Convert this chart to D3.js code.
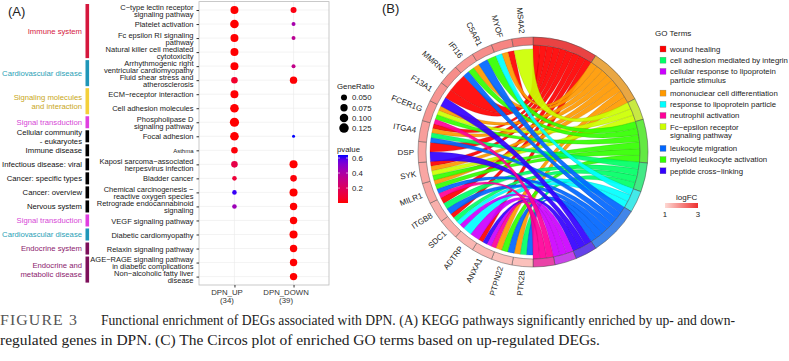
<!DOCTYPE html>
<html>
<head>
<meta charset="utf-8">
<script src="https://cdn.jsdelivr.net/npm/d3@7"></script>
<style>
  body { margin: 0; background: #fff; }
  svg { display: block; font-family: "Liberation Sans", Arial, sans-serif; }
</style>
</head>
<body>
<div id="chart"></div>
<script>
// ---- Panel A: KEGG dot plot data ----
const pathways = [
  "C\u2212type lectin receptor\nsignaling pathway",
  "Platelet activation",
  "Fc epsilon RI signaling\npathway",
  "Natural killer cell mediated\ncytotoxicity",
  "Arrhythmogenic right\nventricular cardiomyopathy",
  "Fluid shear stress and\natherosclerosis",
  "ECM\u2212receptor interaction",
  "Cell adhesion molecules",
  "Phospholipase D\nsignaling pathway",
  "Focal adhesion",
  "Asthma",
  "Kaposi sarcoma\u2212associated\nherpesvirus infection",
  "Bladder cancer",
  "Chemical carcinogenesis \u2212\nreactive oxygen species",
  "Retrograde endocannabinoid\nsignaling",
  "VEGF signaling pathway",
  "Diabetic cardiomyopathy",
  "Relaxin signaling pathway",
  "AGE\u2212RAGE signaling pathway\nin diabetic complications",
  "Non\u2212alcoholic fatty liver\ndisease"
];
const groups = ["DPN_UP", "DPN_DOWN"];
const groupSizes = [34, 39];
const upRatio   = [0.088, 0.103, 0.088, 0.088, 0.088, 0.060, 0.088, 0.103, 0.118, 0.103, 0.060, 0.060, 0.029, 0.029, 0.029, null, null, null, null, null];
const upP       = [0.002, 0.001, 0.002, 0.002, 0.003, 0.070, 0.004, 0.002, 0.001, 0.002, 0.010, 0.140, 0.100, 0.620, 0.450, null, null, null, null, null];
const downRatio = [0.050, 0.022, 0.022, null, 0.022, 0.076, null, null, null, 0.0125, null, 0.090, 0.060, 0.090, 0.076, 0.076, 0.090, 0.076, 0.076, 0.076];
const downP     = [0.020, 0.420, 0.350, null, 0.320, 0.005, null, null, null, 0.640, null, 0.002, 0.010, 0.001, 0.003, 0.002, 0.001, 0.002, 0.003, 0.002];

const categoryNames = [
  "Immune system", "Cardiovascular disease", "Signaling molecules\nand interaction",
  "Signal transduction", "Cellular community\n- eukaryotes", "Immune disease",
  "Infectious disease: viral", "Cancer: specific types", "Cancer: overview",
  "Nervous system", "Signal transduction", "Cardiovascular disease",
  "Endocrine system", "Endocrine and\nmetabolic disease"
];
const categoryRows = [[0, 3], [4, 5], [6, 7], [8, 8], [9, 9], [10, 10], [11, 11], [12, 12], [13, 13], [14, 14], [15, 15], [16, 16], [17, 17], [18, 19]];
const categoryBarColors  = ["#d5173d", "#1f96b8", "#f4d03a", "#e03fe0", "#000", "#000", "#000", "#000", "#000", "#000", "#e03fe0", "#1f96b8", "#7d0f5a", "#7d0f5a"];
const categoryTextColors = ["#d5173d", "#2a9fb6", "#c9a720", "#d646d6", "#111", "#111", "#111", "#111", "#111", "#111", "#d646d6", "#2a9fb6", "#8c1a6d", "#8c1a6d"];
const sizeBreaks = [0.050, 0.075, 0.100, 0.125];
const pBreaks = [0.2, 0.4, 0.6];

// ---- Panel B: GO chord data ----
const goTerms = [
  "wound healing", "mononuclear cell differentiation", "Fc\u2212epsilon receptor signaling pathway",
  "myeloid leukocyte activation", "cell adhesion mediated by integrin", "response to lipoprotein particle",
  "leukocyte migration", "peptide cross\u2212linking", "cellular response to lipoprotein particle stimulus",
  "neutrophil activation"
];
const termColors = ["#FF0000", "#FF9900", "#CCFF00", "#33FF00", "#00FF66", "#00FFFF", "#0066FF", "#3300FF", "#CC00FF", "#FF0099"];
const legendOrder = [0, 4, 8, 1, 5, 9, 2, 6, 3, 7];
const legendLabels = {
  2: "Fc\u2212epsilon receptor\nsignaling pathway",
  8: "cellular response to lipoprotein\nparticle stimulus"
};
const genes = ["PTK2B", "PTPN22", "ANXA1", "ADTRP", "SDC1", "ITGB8", "MILR1", "SYK", "DSP", "ITGA4", "FCER1G", "F13A1", "MMRN1", "IFI16", "C5AR1", "MYOF", "MS4A2"];
const logFC = [1.3, 1.3, 1.4, 1.4, 1.5, 1.5, 1.6, 1.6, 1.6, 1.7, 1.8, 1.8, 1.9, 1.8, 1.9, 2.0, 2.2];
// GO term indices each gene belongs to
const geneTerms = [[1, 4, 6], [1, 3, 6], [0, 9, 8, 7], [5, 8], [0, 4, 5, 8], [0, 4, 6], [3, 9, 6, 1], [0, 1, 2, 3], [0, 7], [0, 1, 4, 6], [1, 2, 3, 9], [0, 7], [0], [1, 6, 3], [3, 6], [0, 1, 5], [2]];

const W = 789, H = 361;
const svg = d3.select("#chart").append("svg").attr("width", W).attr("height", H);
const defs = svg.append("defs");

// ================= Panel A =================
const pa = {left: 199, right: 329, top: 1.6, bottom: 285};
const y = d3.scalePoint().domain(pathways).range([pa.top, pa.bottom]).padding(0.6);
const x = d3.scalePoint().domain(groups).range([pa.left, pa.right]).padding(0.6);
const rScale = d3.scaleSqrt().domain([0, 0.15]).range([0, 5.2]);
const allP = upP.concat(downP).filter(v => v != null);
const pExtent = d3.extent(allP);
const color = d3.scaleLinear().domain(pExtent).range(["red", "blue"]).interpolate(d3.interpolateLab);

svg.append("text").attr("x", 8).attr("y", 16).attr("font-size", 13).attr("fill", "#222").text("(A)");

// grid
const grid = svg.append("g").attr("stroke", "#ebebeb").attr("stroke-width", 0.6);
grid.selectAll(".gy").data(pathways).join("line")
  .attr("x1", pa.left).attr("x2", pa.right).attr("y1", d => y(d)).attr("y2", d => y(d));
grid.selectAll(".gx").data(groups).join("line")
  .attr("y1", pa.top).attr("y2", pa.bottom).attr("x1", d => x(d)).attr("x2", d => x(d));

svg.append("rect").attr("x", pa.left).attr("y", pa.top)
  .attr("width", pa.right - pa.left).attr("height", pa.bottom - pa.top)
  .attr("fill", "none").attr("stroke", "#bcbcbc").attr("stroke-width", 0.8);

// y axis with two-line labels
const yAxis = svg.append("g").attr("transform", `translate(${pa.left},0)`)
  .call(d3.axisLeft(y).tickSize(2.5).tickPadding(3));
yAxis.select(".domain").remove();
yAxis.selectAll(".tick line").attr("stroke", "#333");
yAxis.selectAll(".tick text").each(function(d) {
  const lines = d.split("\n");
  const t = d3.select(this).text(null).attr("dy", null)
    .attr("font-size", d === "Asthma" ? 6 : 7.5).attr("fill", "#1a1a1a")
    .attr("font-family", "'Liberation Sans', Arial, sans-serif");
  lines.forEach((ln, i) => {
    t.append("tspan").attr("x", -5.5)
      .attr("y", (i - (lines.length - 1) / 2) * 6.9 + 2.6).text(ln);
  });
});

// x axis
const xAxis = svg.append("g").attr("transform", `translate(0,${pa.bottom})`)
  .call(d3.axisBottom(x).tickSize(2.5).tickPadding(3));
xAxis.select(".domain").remove();
xAxis.selectAll(".tick line").attr("stroke", "#333");
xAxis.selectAll(".tick text").each(function(d, i) {
  const t = d3.select(this).text(null).attr("dy", null).attr("font-size", 7.8).attr("fill", "#333")
    .attr("font-family", "'Liberation Sans', Arial, sans-serif");
  [d, `(${groupSizes[i]})`].forEach((ln, j) => {
    t.append("tspan").attr("x", -8).attr("y", 10 + j * 8.4).text(ln);
  });
});

// dots
const points = [];
pathways.forEach((p, i) => {
  if (upRatio[i] != null) points.push({path: p, group: groups[0], ratio: upRatio[i], p: upP[i]});
  if (downRatio[i] != null) points.push({path: p, group: groups[1], ratio: downRatio[i], p: downP[i]});
});
svg.append("g").selectAll("circle").data(points).join("circle")
  .attr("cx", d => x(d.group)).attr("cy", d => y(d.path))
  .attr("r", d => rScale(d.ratio)).attr("fill", d => color(d.p));

// category bars and labels
const step = y.step();
const cat = svg.append("g");
categoryNames.forEach((name, k) => {
  const [a, b] = categoryRows[k];
  const y0 = y(pathways[a]) - step / 2 + 1, y1 = y(pathways[b]) + step / 2 - 1;
  cat.append("rect").attr("x", 85.5).attr("y", y0).attr("width", 3.6).attr("height", y1 - y0)
    .attr("fill", categoryBarColors[k]);
  const lines = name.split("\n");
  const mid = (y0 + y1) / 2;
  const t = cat.append("text").attr("text-anchor", "end").attr("font-size", 7.7)
    .attr("fill", categoryTextColors[k]);
  lines.forEach((ln, j) => {
    t.append("tspan").attr("x", 82).attr("y", mid + (j - (lines.length - 1) / 2) * 9 + 2.8).text(ln);
  });
});

// size legend
const leg = svg.append("g").attr("font-size", 7.8).attr("fill", "#222");
leg.append("text").attr("x", 337).attr("y", 89).text("GeneRatio");
sizeBreaks.forEach((s, i) => {
  const cy = 97.5 + i * 10.2;
  leg.append("circle").attr("cx", 344).attr("cy", cy).attr("r", rScale(s)).attr("fill", "#000");
  leg.append("text").attr("x", 352).attr("y", cy + 2.8).text(s.toFixed(3));
});

// p-value colour bar
leg.append("text").attr("x", 337).attr("y", 152).text("pvalue");
const cbY = d3.scaleLinear().domain(pExtent).range([203, 155]);
const grad = defs.append("linearGradient").attr("id", "pgrad").attr("x1", 0).attr("x2", 0).attr("y1", 1).attr("y2", 0);
d3.range(0, 1.0001, 0.1).forEach(f => {
  grad.append("stop").attr("offset", f).attr("stop-color", color(pExtent[0] + f * (pExtent[1] - pExtent[0])));
});
leg.append("rect").attr("x", 338).attr("y", 155).attr("width", 10).attr("height", 48).attr("fill", "url(#pgrad)");
pBreaks.forEach(b => {
  leg.append("line").attr("x1", 338).attr("x2", 340).attr("y1", cbY(b)).attr("y2", cbY(b)).attr("stroke", "#fff").attr("stroke-width", 0.6);
  leg.append("line").attr("x1", 346).attr("x2", 348).attr("y1", cbY(b)).attr("y2", cbY(b)).attr("stroke", "#fff").attr("stroke-width", 0.6);
  leg.append("text").attr("x", 352).attr("y", cbY(b) + 2.8).text(b.toFixed(1));
});

// ================= Panel B =================
svg.append("text").attr("x", 382).attr("y", 13).attr("font-size", 13).attr("fill", "#222").text("(B)");

const cx = 533, cy = 152, rOut = 115, rIn = 107, rGene = 103;
const g = svg.append("g").attr("transform", `translate(${cx},${cy})`);

const termCount = goTerms.map((_, t) => geneTerms.filter(gt => gt.includes(t)).length);
const totalLinks = d3.sum(termCount);
const goAngle = d3.scaleLinear().domain([0, totalLinks]).range([0, Math.PI]);
const termStart = [0, ...d3.cumsum(termCount)];
const geneAngle = d3.scaleBand().domain(genes).range([Math.PI, 2 * Math.PI]);

const lfcColor = d3.scaleLinear().domain([1, 3]).range(["#fdd9d4", "#ee3030"]);
const ringColor = c => d3.interpolateRgb(c, "#c0c0c0")(0.35);

// links
const links = [];
genes.forEach((gn, gi) => {
  const ts = [...geneTerms[gi]].sort((a, b) => b - a);
  const w = geneAngle.bandwidth() / ts.length;
  ts.forEach((t, k) => {
    const gs = genes.map((_, j) => j).filter(j => geneTerms[j].includes(t)).sort((a, b) => b - a);
    const pos = gs.indexOf(gi);
    links.push({
      term: t,
      source: {startAngle: geneAngle(gn) + k * w, endAngle: geneAngle(gn) + (k + 1) * w, radius: rGene},
      target: {startAngle: goAngle(termStart[t] + pos), endAngle: goAngle(termStart[t] + pos + 1), radius: rIn}
    });
  });
});
links.sort((a, b) => a.term - b.term);
const ribbon = d3.ribbon();
g.append("g").selectAll("path").data(links).join("path")
  .attr("d", ribbon)
  .attr("fill", d => termColors[d.term])
  .attr("fill-opacity", 0.92)
  .attr("stroke", d => d3.color(termColors[d.term]).darker(1.2))
  .attr("stroke-width", 0.25);

// GO ring
const arc = d3.arc().innerRadius(rIn).outerRadius(rOut);
g.append("g").selectAll("path").data(goTerms).join("path")
  .attr("d", (d, t) => arc({startAngle: goAngle(termStart[t]), endAngle: goAngle(termStart[t + 1])}))
  .attr("fill", (d, t) => ringColor(termColors[t]))
  .attr("stroke", "#444").attr("stroke-width", 0.5);

// gene ring
g.append("g").selectAll("path").data(genes).join("path")
  .attr("d", gn => arc({startAngle: geneAngle(gn), endAngle: geneAngle(gn) + geneAngle.bandwidth()}))
  .attr("fill", (gn, i) => lfcColor(logFC[i]))
  .attr("stroke", "#555").attr("stroke-width", 0.5);

// gene labels
g.append("g").selectAll("text").data(genes).join("text")
  .attr("transform", gn => {
    const a = geneAngle(gn) + geneAngle.bandwidth() / 2;
    const r = rOut + 4;
    return `translate(${r * Math.sin(a)},${-r * Math.cos(a)}) rotate(${a * 180 / Math.PI - 270})`;
  })
  .attr("text-anchor", "end").attr("dy", "0.35em")
  .attr("font-size", 8).attr("fill", "#222").text(d => d);

// GO legend
const gl = svg.append("g").attr("font-size", 7.8).attr("fill", "#222");
gl.append("text").attr("x", 655).attr("y", 36).attr("font-size", 8).text("GO Terms");
let ly = 49;
legendOrder.forEach(t => {
  const label = (legendLabels[t] || goTerms[t]).split("\n");
  gl.append("rect").attr("x", 660).attr("y", ly - 3).attr("width", 6).attr("height", 6)
    .attr("fill", termColors[t]).attr("stroke", "#777").attr("stroke-width", 0.3);
  const tx = gl.append("text");
  label.forEach((ln, j) => tx.append("tspan").attr("x", 670).attr("y", ly + 2.8 + j * 8.6).text(ln));
  ly += 11.2 + (label.length - 1) * 10.5;
});

// logFC legend
gl.append("text").attr("x", 676).attr("y", 200).attr("font-size", 8).text("logFC");
const lgrad = defs.append("linearGradient").attr("id", "lgrad");
lgrad.append("stop").attr("offset", 0).attr("stop-color", lfcColor(1));
lgrad.append("stop").attr("offset", 1).attr("stop-color", lfcColor(3));
const lx = d3.scaleLinear().domain([1, 3]).range([665, 698]);
gl.append("rect").attr("x", lx(1)).attr("y", 203).attr("width", lx(3) - lx(1)).attr("height", 5).attr("fill", "url(#lgrad)");
[1, 3].forEach(v => gl.append("text").attr("x", lx(v)).attr("y", 217).attr("text-anchor", "middle").text(v));

// ================= Caption =================
const cap = svg.append("g").attr("font-family", "'Liberation Serif', 'Times New Roman', serif").attr("font-size", 14.5);
cap.append("text").attr("x", 0).attr("y", 325).attr("fill", "#555").attr("letter-spacing", 1)
  .attr("textLength", 78).attr("lengthAdjust", "spacingAndGlyphs").text("FIGURE 3");
cap.append("text").attr("x", 101).attr("y", 325).attr("fill", "#222")
  .attr("textLength", 634).attr("lengthAdjust", "spacingAndGlyphs")
  .text("Functional enrichment of DEGs associated with DPN. (A) KEGG pathways significantly enriched by up- and down-");
cap.append("text").attr("x", 0).attr("y", 345).attr("fill", "#222")
  .attr("textLength", 600).attr("lengthAdjust", "spacingAndGlyphs")
  .text("regulated genes in DPN. (C) The Circos plot of enriched GO terms based on up-regulated DEGs.");
</script>
</body>
</html>
